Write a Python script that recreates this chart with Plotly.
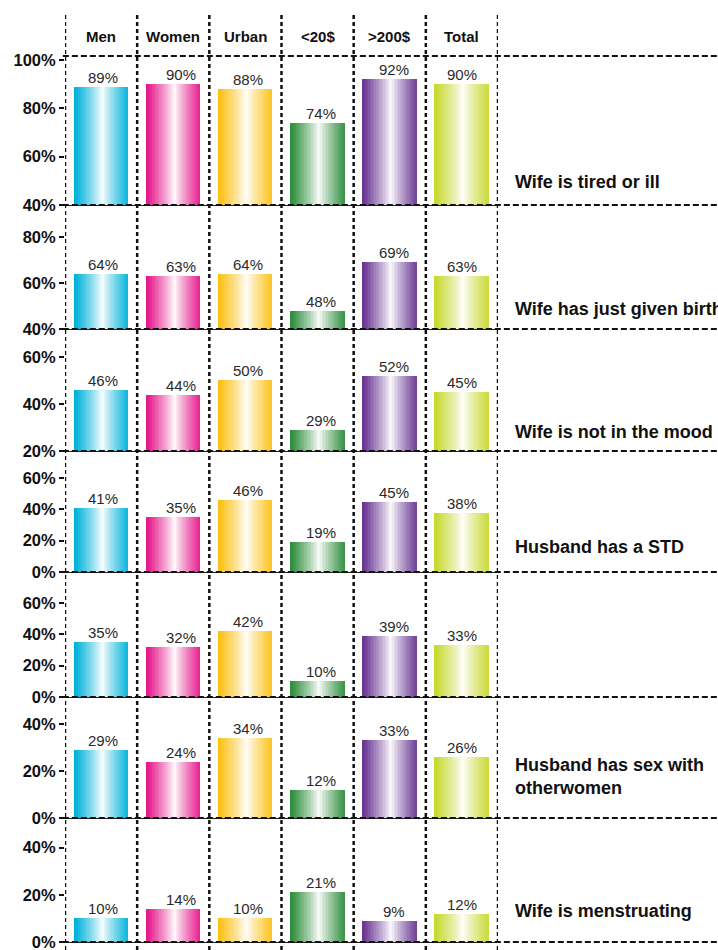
import plotly.graph_objects as go

# ---- data -------------------------------------------------------------
groups = ["Men", "Women", "Urban", "<20$", ">200$", "Total"]
reasons = [
    "Wife is tired or ill",
    "Wife has just given birth",
    "Wife is not in the mood",
    "Husband has a STD",
    "",
    "Husband has sex with<br>otherwomen",
    "Wife is menstruating",
]
tired_ill = [89, 90, 88, 74, 92, 90]
given_birth = [64, 63, 64, 48, 69, 63]
not_in_mood = [46, 44, 50, 29, 52, 45]
husband_std = [41, 35, 46, 19, 45, 38]
unlabeled_row = [35, 32, 42, 10, 39, 33]
other_women = [29, 24, 34, 12, 33, 26]
menstruating = [10, 14, 10, 21, 9, 12]
rows = [tired_ill, given_birth, not_in_mood, husband_std,
        unlabeled_row, other_women, menstruating]
row_ticks = [[40, 60, 80, 100], [40, 60, 80], [20, 40, 60], [0, 20, 40, 60],
             [0, 20, 40, 60], [0, 20, 40], [0, 20, 40]]

# ---- styling ----------------------------------------------------------
W, H = 718, 950
bar_colors = ["#00B3DB", "#E6178B", "#FDC114", "#2F8F3F", "#6A3794", "#C8D930"]
y_ranges = [(40, 101.7), (40, 93.9), (20, 71.9), (0, 77.3), (0, 79.9), (0, 51.5), (0, 52.6)]
row_px = [(56, 205), (205, 329), (329, 451), (451, 572), (572, 697), (697, 818), (818, 942)]
label_pos = [0.154, 0.16, 0.156, 0.207, 0.2, 0.347, 0.248]
value_xshift = [2, 8, 3, 3, 4, 0]
x_left, x_right = 65, 498

tick_font = dict(family="Liberation Sans, Arial, sans-serif", size=16.5, color="#111", weight=700)
value_font = dict(family="Liberation Sans, Arial, sans-serif", size=15, color="#2a2a2a")
head_font = dict(family="Liberation Sans Narrow, Arial Narrow, Liberation Sans, sans-serif",
                 size=15, color="#111", weight=700)
reason_font = dict(family="Liberation Sans, Arial, sans-serif", size=18, color="#111", weight=700)


def hex_rgb(h):
    h = h.lstrip("#")
    return tuple(int(h[i:i + 2], 16) for i in (0, 2, 4))


def shade(base, f):
    # cylinder-like shading: full colour at the edges, white near the middle
    t = min(1.0, abs(f - 0.53) / 0.5)
    m = t ** 0.85
    r, g, b = hex_rgb(base)
    return "rgb({},{},{})".format(int(255 + (r - 255) * m),
                                  int(255 + (g - 255) * m),
                                  int(255 + (b - 255) * m))


fig = go.Figure()
N = 36
bar_w = 0.75
sw = bar_w / N
layout = {}
shapes = []
annotations = []

for i, vals in enumerate(rows):
    n = "" if i == 0 else str(i + 1)
    xa, ya = "x" + n, "y" + n
    top, bot = row_px[i]
    layout["xaxis" + n] = dict(
        domain=[x_left / W, x_right / W], anchor=ya, type="category",
        categoryorder="array", categoryarray=groups, range=[-0.5, 5.5],
        showticklabels=False, showgrid=False, zeroline=False, automargin=False,
        showline=True, linecolor="#222", linewidth=1, ticks="",
    )
    layout["yaxis" + n] = dict(
        domain=[1 - bot / H, 1 - top / H], anchor=xa, range=list(y_ranges[i]),
        tickmode="array", tickvals=row_ticks[i],
        ticktext=[f"{t}%" for t in row_ticks[i]], ticklabeloverflow="allow",
        showgrid=False, zeroline=False, automargin=False,
        showline=False, ticks="outside", ticklen=5, tickwidth=1.5, tickcolor="#111",
        tickfont=tick_font,
    )
    # gradient bars built from narrow slices
    for k in range(N):
        f = (k + 0.5) / N
        fig.add_trace(go.Bar(
            x=groups, y=vals, xaxis=xa, yaxis=ya,
            width=sw * (1.25 if k < N - 1 else 1.0), offset=-bar_w / 2 + k * sw,
            marker=dict(color=[shade(c, f) for c in bar_colors], line=dict(width=0)),
            showlegend=False, hoverinfo="skip", cliponaxis=False,
        ))
    # value labels
    for j, v in enumerate(vals):
        annotations.append(dict(
            x=groups[j], y=v, xref=xa, yref=ya, text=f"{v}%", showarrow=False,
            yanchor="bottom", yshift=-1, xshift=value_xshift[j], font=value_font,
        ))
    # row separator (dashed) at the base of each panel
    shapes.append(dict(type="line", xref="paper", yref=ya + " domain",
                       x0=x_left / W - 0.003, x1=1, y0=0, y1=0,
                       line=dict(color="#111", width=2, dash="6px,3px")))
    if i == 0:
        shapes.append(dict(type="line", xref="paper", yref=ya + " domain",
                           x0=x_left / W - 0.003, x1=1, y0=1, y1=1,
                           line=dict(color="#111", width=2, dash="6px,3px")))
    if reasons[i]:
        annotations.append(dict(
            x=513 / W, xref="paper", y=label_pos[i], yref=ya + " domain",
            text=reasons[i], showarrow=False, xanchor="left", yanchor="middle",
            align="left", font=reason_font,
        ))

# dotted column dividers running the full height
for b in range(len(groups) + 1):
    shapes.append(dict(type="line", xref="x", yref="paper",
                       x0=b - 0.5, x1=b - 0.5, y0=0, y1=1 - 14 / H,
                       line=dict(color="#111", width=2.5, dash="4px,3px")))

# column headers
for g in groups:
    annotations.append(dict(x=g, xref="x", y=1 - 36 / H, yref="paper", text=g,
                            showarrow=False, yanchor="middle", font=head_font))

fig.update_layout(
    width=W, height=H, margin=dict(l=0, r=0, t=0, b=0, autoexpand=False),
    paper_bgcolor="white", plot_bgcolor="rgba(0,0,0,0)",
    barmode="overlay", bargap=0, shapes=shapes, annotations=annotations,
    **layout,
)

fig.write_html("out.html")
